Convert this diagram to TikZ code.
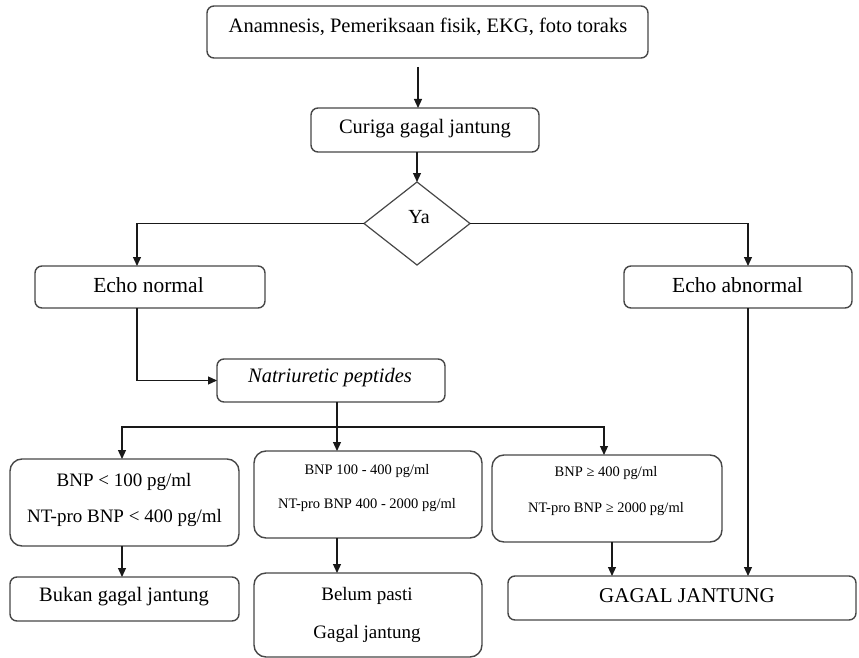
\documentclass[tikz,border=0pt]{standalone}
\usepackage{fontspec}
\setmainfont{Liberation Serif}
\usetikzlibrary{shapes.geometric,arrows.meta}
\tikzset{
  box/.style={draw=black!72, line width=1.4pt, rounded corners=7pt, inner sep=0pt, outer sep=0pt, fill=white},
  bigbox/.style={box, rounded corners=12pt},
  conn/.style={line width=1.2pt, draw=black!90},
  arr/.style={conn, -{Triangle[length=9pt,width=8pt]}},
  txt/.style={inner sep=0pt, anchor=center, font=\fontsize{20.5}{24}\selectfont},
  small/.style={inner sep=0pt, anchor=center, font=\fontsize{14.5}{17}\selectfont},
}
\begin{document}
\begin{tikzpicture}[x=1pt,y=-1pt]
\useasboundingbox (0,0) rectangle (859,658);
% boxes
\node[box, minimum width=441pt, minimum height=52pt] (top) at (427.5,32) {};
\node[box, minimum width=228pt, minimum height=44pt] (cur) at (425,130) {};
\node[diamond, draw=black!72, line width=1.2pt, inner sep=0pt, outer sep=0pt, minimum width=106pt, minimum height=83pt] (dia) at (417,223.5) {};
\node[box, minimum width=230pt, minimum height=42pt] (echoN) at (150,287) {};
\node[box, minimum width=228pt, minimum height=42pt] (echoA) at (738,287) {};
\node[box, minimum width=228pt, minimum height=43pt] (nat) at (331,380.5) {};
\node[bigbox, minimum width=229pt, minimum height=87pt] (bnp1) at (124.5,502.5) {};
\node[bigbox, minimum width=228pt, minimum height=87pt] (bnp2) at (368,494.5) {};
\node[bigbox, minimum width=230pt, minimum height=87pt] (bnp3) at (607,498.5) {};
\node[box, minimum width=229pt, minimum height=44pt] (bukan) at (124.5,599) {};
\node[bigbox, minimum width=228pt, minimum height=84pt] (belum) at (368,615) {};
\node[box, minimum width=348pt, minimum height=44pt] (gagal) at (682,598) {};
% texts
\node[txt] (t-top) at (428,27) {Anamnesis, Pemeriksaan fisik, EKG, foto toraks};
\node[txt] (t-cur) at (425,129) {Curiga gagal jantung};
\node[txt, font=\fontsize{20}{24}\selectfont] (t-ya) at (419,217) {Ya};
\node[txt, font=\fontsize{21.5}{25}\selectfont] (t-echoN) at (148.5,285) {Echo normal};
\node[txt, font=\fontsize{21.5}{25}\selectfont] (t-echoA) at (737.5,285) {Echo abnormal};
\node[txt, font=\fontsize{20.5}{24}\selectfont\itshape] (t-nat) at (330,378) {Natriuretic peptides};
\node[txt, font=\fontsize{19}{23}\selectfont] (t-b1a) at (124,482) {BNP < 100 pg/ml};
\node[txt, font=\fontsize{19}{23}\selectfont] (t-b1b) at (124.5,518) {NT-pro BNP < 400 pg/ml};
\node[small] (t-b2a) at (367,471) {BNP 100 - 400 pg/ml};
\node[small] (t-b2b) at (367,505) {NT-pro BNP 400 - 2000 pg/ml};
\node[small] (t-b3a) at (606,473) {BNP ≥ 400 pg/ml};
\node[small] (t-b3b) at (606,509) {NT-pro BNP ≥ 2000 pg/ml};
\node[txt, font=\fontsize{20.5}{24}\selectfont] (t-bukan) at (124,597) {Bukan gagal jantung};
\node[txt, font=\fontsize{19}{23}\selectfont] (t-belum1) at (367,596) {Belum pasti};
\node[txt, font=\fontsize{19}{23}\selectfont] (t-belum2) at (367,634) {Gagal jantung};
\node[txt, font=\fontsize{21}{25}\selectfont] (t-gagal) at (687,596) {GAGAL JANTUNG};
% connectors
\coordinate (a1) at (418,67);
\draw[arr] (a1) -- (a1 |- cur.north);
\draw[arr] (cur.south -| dia.north) -- (dia.north);
\draw[arr] (dia.west) -| ([xshift=-13pt]echoN.north);
\draw[arr] (dia.east) -| ([xshift=10pt]echoA.north);
\draw[arr] ([xshift=-13pt]echoN.south) |- (nat.west);
\coordinate (split) at (337,427);
\draw[conn] ([xshift=6pt]nat.south) -- (split);
\draw[arr] (split) -| ([xshift=-2.5pt]bnp1.north);
\draw[arr] (split) -- (split |- bnp2.north);
\draw[arr] (split) -| ([xshift=-3pt]bnp3.north);
\draw[arr] ([xshift=-2.5pt]bnp1.south) -- ([xshift=-2.5pt]bukan.north);
\draw[arr] ([xshift=-31pt]bnp2.south) -- ([xshift=-31pt]belum.north);
\draw[arr] ([xshift=5pt]bnp3.south) -- ([xshift=5pt]bnp3.south |- gagal.north);
\draw[arr] ([xshift=10pt]echoA.south) -- ([xshift=10pt]echoA.south |- gagal.north);
\end{tikzpicture}
\end{document}
